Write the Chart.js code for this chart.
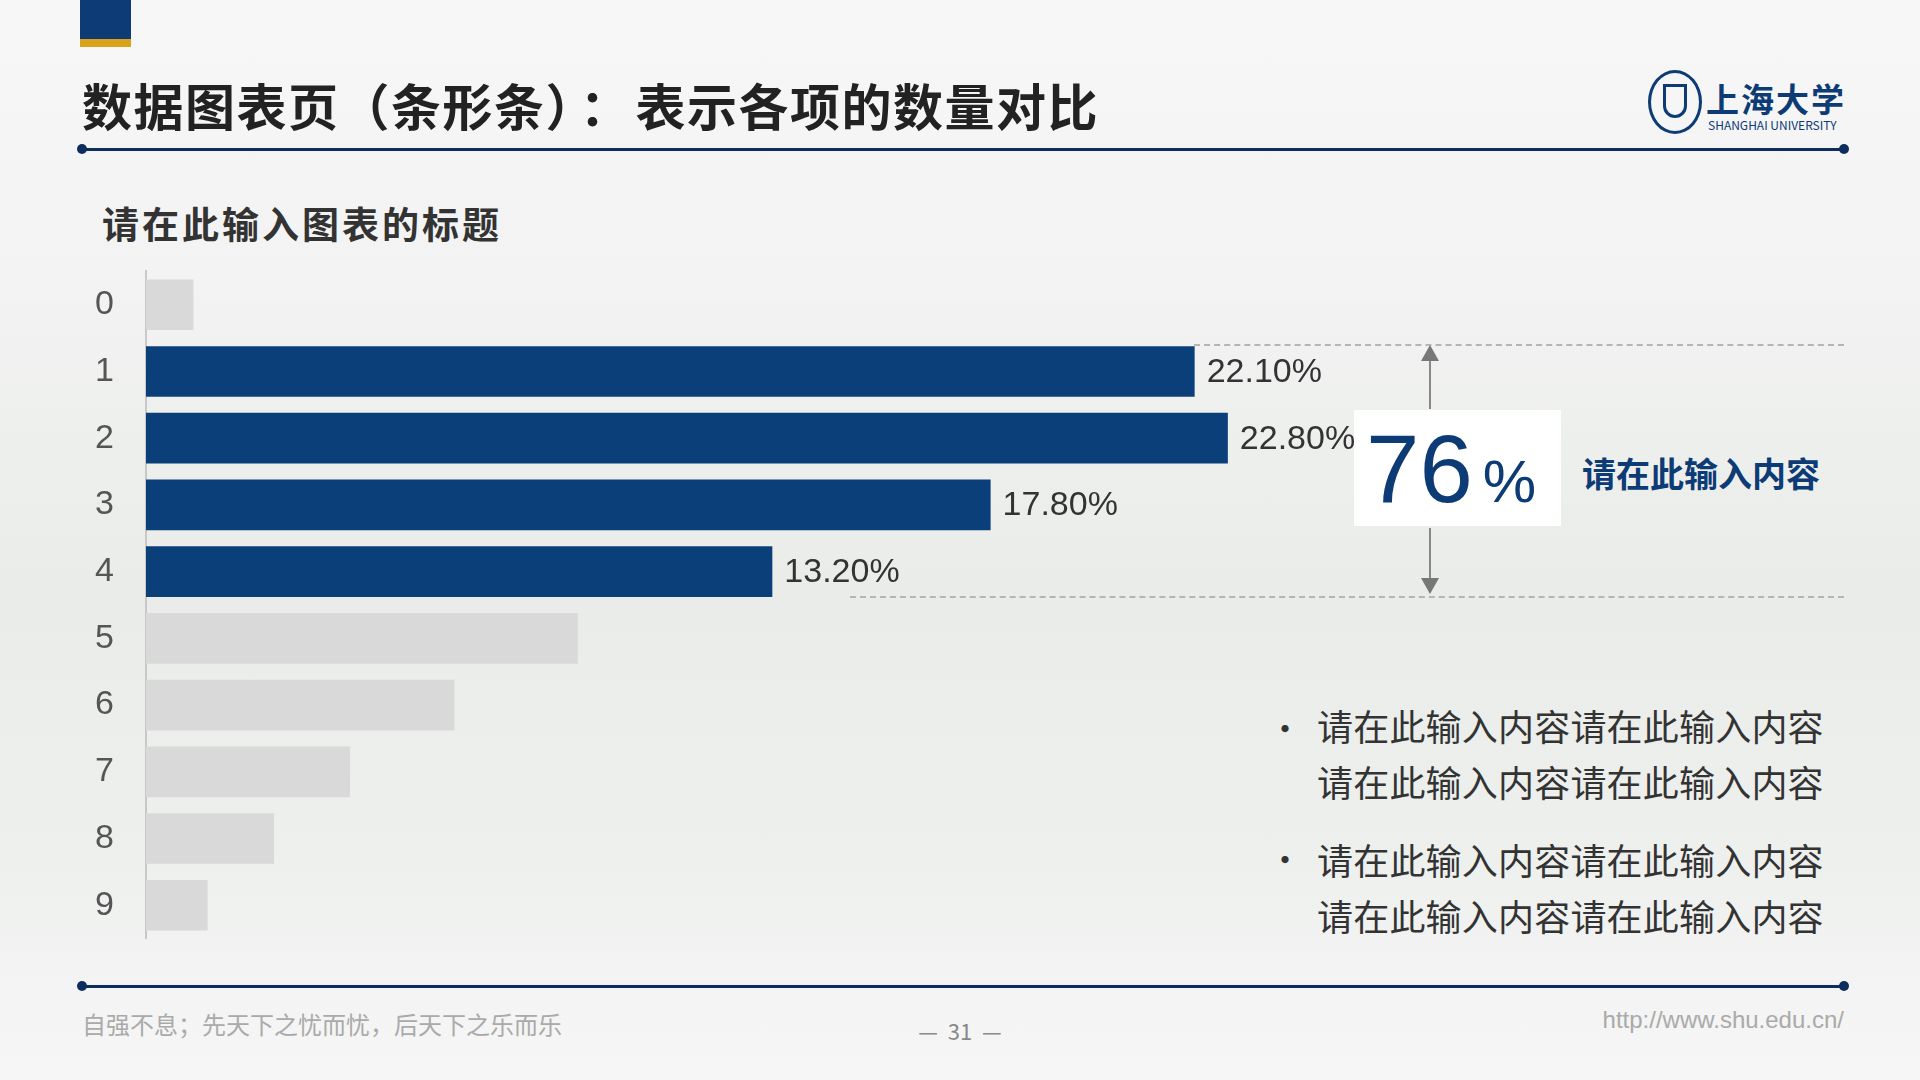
<!DOCTYPE html>
<html><head><meta charset="utf-8">
<script src="https://cdn.jsdelivr.net/npm/chart.js@4.4.1/dist/chart.umd.min.js"></script>
<style>
html,body{margin:0;padding:0;width:1920px;height:1080px;overflow:hidden;font-family:"Noto Sans CJK SC","Liberation Sans",sans-serif;}
body{background:linear-gradient(180deg,#f7f7f7 0%,#f1f2f1 30%,#e9ece8 55%,#eef0ee 80%,#f6f6f6 100%);position:relative;}
.abs{position:absolute;}
.hline{position:absolute;height:3px;background:#0d2d5e;}
.dot{position:absolute;width:10px;height:10px;border-radius:50%;background:#0d2d5e;}
.dash{position:absolute;border-top:2px dashed #b5b5b5;height:0;}
.bt{position:absolute;left:1317px;font-size:36px;color:#333;line-height:56px;letter-spacing:0.2px}
</style></head><body>
<div class="abs" style="left:80px;top:0;width:51px;height:39px;background:#0d3b75"></div>
<div class="abs" style="left:80px;top:39px;width:51px;height:8px;background:#d9a21b"></div>
<div class="abs" style="left:82px;top:68px;font-size:50px;font-weight:bold;color:#222;white-space:nowrap;letter-spacing:1.5px">数据图表页（条形条）<span style="margin-left:8px">：</span><span style="margin-left:4px">表示各项的数量对比</span></div>
<div class="hline" style="left:82px;top:148px;width:1762px"></div>
<div class="dot" style="left:77px;top:144px"></div><div class="dot" style="left:1839px;top:144px"></div>
<div class="abs" style="left:1648px;top:70px;width:54px;height:64px;border:3px solid #0d3b75;border-radius:50%;box-sizing:border-box"></div>
<div class="abs" style="left:1663px;top:84px;width:24px;height:34px;border:3px solid #0d3b75;border-radius:0 0 12px 12px;box-sizing:border-box"></div>
<div class="abs" style="left:1706px;top:74px;font-size:33px;color:#0d3b75;font-weight:bold;letter-spacing:2px">上海大学</div>
<div class="abs" style="left:1708px;top:116px;font-size:12px;color:#0d3b75">SHANGHAI UNIVERSITY</div>
<div class="abs" style="left:102px;top:196px;font-size:37px;font-weight:bold;color:#333;letter-spacing:3px">请在此输入图表的标题</div>

<div class="dash" style="left:1194px;top:344px;width:650px"></div>
<div class="dash" style="left:850px;top:596px;width:994px"></div>
<div class="abs" style="left:1429px;top:355px;width:2px;height:54px;background:#888"></div>
<div class="abs" style="left:1429px;top:528px;width:2px;height:52px;background:#888"></div>
<div class="abs" style="left:1421px;top:345px;width:0;height:0;border-left:9px solid transparent;border-right:9px solid transparent;border-bottom:16px solid #777"></div>
<div class="abs" style="left:1421px;top:578px;width:0;height:0;border-left:9px solid transparent;border-right:9px solid transparent;border-top:16px solid #777"></div>
<div class="abs" style="left:1354px;top:410px;width:207px;height:116px;background:#fff"></div>
<div class="abs" style="left:1366px;top:414px;color:#0d3b75;white-space:nowrap;font-family:'Liberation Sans'"><span style="font-size:96px">76</span><span style="font-size:60px;margin-left:10px">%</span></div>
<div class="abs" style="left:1582px;top:448px;font-size:34px;font-weight:bold;color:#0d3b75">请在此输入内容</div>
<div class="abs" style="left:1268px;top:700px;font-size:34px;color:#333;line-height:56px">•</div>
<div class="bt" style="top:697px">请在此输入内容请在此输入内容<br>请在此输入内容请在此输入内容</div>
<div class="abs" style="left:1268px;top:831px;font-size:34px;color:#333;line-height:56px">•</div>
<div class="bt" style="top:831px">请在此输入内容请在此输入内容<br>请在此输入内容请在此输入内容</div>

<div class="hline" style="left:82px;top:985px;width:1762px"></div>
<div class="dot" style="left:77px;top:981px"></div><div class="dot" style="left:1839px;top:981px"></div>
<div class="abs" style="left:82px;top:1006px;font-size:24px;color:#aaa">自强不息；先天下之忧而忧，后天下之乐而乐</div>
<div class="abs" style="left:910px;top:1014px;font-size:22px;color:#888;width:100px;text-align:center">—&nbsp; 31 &nbsp;—</div>
<div class="abs" style="right:76px;top:1006px;font-size:24px;color:#aaa;font-family:'Liberation Sans'">http://www.shu.edu.cn/</div>

<canvas id="c" width="1500" height="772" style="position:absolute;left:60px;top:219px;width:1500px;height:772px"></canvas>
<script>
const categories = ['0','1','2','3','4','5','6','7','8','9'];
const values = [1.0, 22.1, 22.8, 17.8, 13.2, 9.1, 6.5, 4.3, 2.7, 1.3];
const highlighted = [false, true, true, true, true, false, false, false, false, false];
const labels = ['', '22.10%', '22.80%', '17.80%', '13.20%', '', '', '', '', ''];

const labelPlugin = {
  id: 'barLabels',
  afterDatasetsDraw(chart) {
    const ctx = chart.ctx;
    const meta = chart.getDatasetMeta(0);
    ctx.save();
    ctx.font = '34px "Liberation Sans"';
    ctx.fillStyle = '#333';
    ctx.textBaseline = 'middle';
    meta.data.forEach((bar, i) => {
      if (labels[i]) ctx.fillText(labels[i], bar.x + 12, bar.y + 1);
    });
    ctx.restore();
  }
};

new Chart(document.getElementById('c'), {
  type: 'bar',
  data: {
    labels: categories,
    datasets: [{
      data: values,
      backgroundColor: highlighted.map(h => h ? '#0b3f7a' : '#d9d9d9'),
      barPercentage: 0.76,
      categoryPercentage: 1
    }]
  },
  options: {
    indexAxis: 'y',
    responsive: false,
    animation: false,
    devicePixelRatio: 1,
    layout: { padding: 0 },
    plugins: { legend: { display: false }, tooltip: { enabled: false } },
    scales: {
      x: { display: false, min: 0, max: 29.8 },
      y: {
        afterFit(s) { s.width = 86; },
        grid: { display: false, drawTicks: false },
        border: { color: '#c8c8c8', width: 2 },
        ticks: { color: '#555', font: { size: 34, family: 'Liberation Sans' }, padding: 32 }
      }
    }
  },
  plugins: [labelPlugin]
});
</script>
</body></html>
